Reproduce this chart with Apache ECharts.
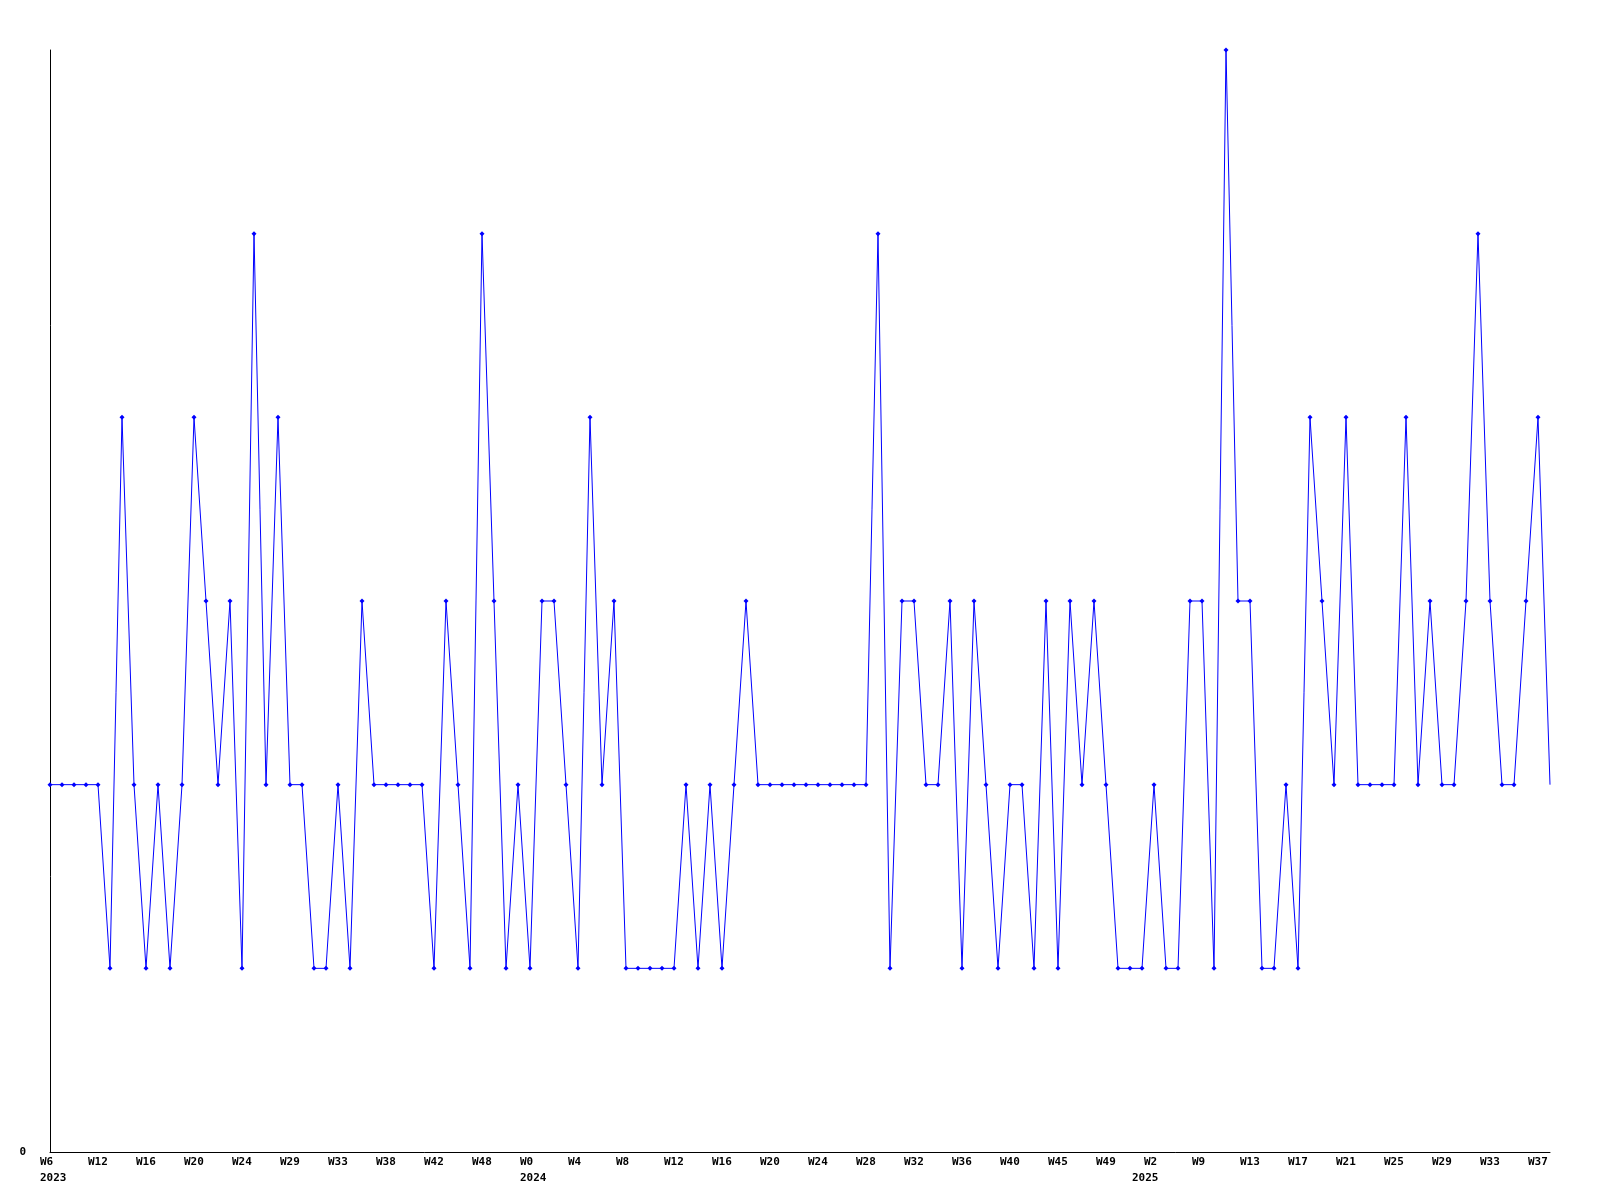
<!DOCTYPE html>
<html>
<head>
<meta charset="utf-8">
<script src="https://cdn.jsdelivr.net/npm/echarts@6/dist/echarts.min.js"></script>
<style>html,body{margin:0;padding:0;background:#fff}#c{width:1600px;height:1200px}</style>
</head>
<body>
<div id="c"></div>
<script>
// weekly values, one per point
const values = [
  2,2,2,2,2,1,4,2,1,2,1,2,4,3,2,3,1,5,
  2,4,2,2,1,1,2,1,3,2,2,2,2,2,1,3,2,1,
  5,3,1,2,1,3,3,2,1,4,2,3,1,1,1,1,1,
  2,1,2,1,2,3,2,2,2,2,2,2,2,2,2,2,5,1,
  3,3,2,2,3,1,3,2,1,2,2,1,3,1,3,2,3,
  2,1,1,1,2,1,1,3,3,1,6,3,3,1,1,2,1,4,
  3,2,4,2,2,2,2,4,2,3,2,2,3,5,3,2,2,3,4,2
];
// week tick labels (one every 4 points)
const weekTicks = ['W6','W12','W16','W20','W24','W29','W33','W38','W42','W48','W0',
  'W4','W8','W12','W16','W20','W24','W28','W32','W36','W40','W45','W49','W2',
  'W9','W13','W17','W21','W25','W29','W33','W37'];
// year tick labels and the point index they sit at
const yearTickIndex = [0, 40, 91];
const yearTickText = ['2023', '2024', '2025'];
const yTicks = ['0'];

const categories = values.map((v, i) => String(i));
const font = { fontFamily: 'DejaVu Sans Mono', fontWeight: 'bold', fontSize: 11, color: '#000' };

const chart = echarts.init(document.getElementById('c'));
chart.setOption({
  animation: false,
  backgroundColor: '#fff',
  grid: [
    { left: 50, right: 50, top: 50, bottom: 48 },
    { left: 40, right: 60, top: 50, bottom: 48 }
  ],
  xAxis: [
    { type: 'category', gridIndex: 0, position: 'bottom', data: categories, boundaryGap: false,
      axisLine: { show: true, lineStyle: { color: '#000', width: 1 } },
      axisTick: { show: false }, axisLabel: { show: false }, splitLine: { show: false } },
    { type: 'category', gridIndex: 1, position: 'bottom', offset: 0, data: categories, boundaryGap: false,
      axisLine: { show: false }, axisTick: { show: false }, splitLine: { show: false },
      axisLabel: Object.assign({ align: 'left', margin: 5,
        interval: (i) => i % 4 === 0,
        formatter: (v, i) => weekTicks[Math.round(i / 4)] || '' }, font) },
    { type: 'category', gridIndex: 1, position: 'bottom', offset: 0, data: categories, boundaryGap: false,
      axisLine: { show: false }, axisTick: { show: false }, splitLine: { show: false },
      axisLabel: Object.assign({ align: 'left', margin: 21,
        interval: (i) => yearTickIndex.indexOf(i) >= 0,
        formatter: (v, i) => { const k = yearTickIndex.indexOf(i); return k >= 0 ? yearTickText[k] : ''; } }, font) }
  ],
  yAxis: [
    { type: 'value', gridIndex: 0, min: 0, max: 6, interval: 6,
      axisLine: { show: true, lineStyle: { color: '#000', width: 1 } },
      axisTick: { show: false }, splitLine: { show: false },
      axisLabel: Object.assign({ margin: 24, formatter: (v) => v === 0 ? yTicks[0] : '' }, font) },
    { type: 'value', gridIndex: 1, min: 0, max: 6, show: false }
  ],
  series: [{
    type: 'line', xAxisIndex: 0, yAxisIndex: 0,
    data: values.map((v, i) => i === values.length - 1 ? { value: v, symbol: 'none' } : v),
    symbol: 'diamond', symbolSize: 5, showSymbol: true, showAllSymbol: true,
    lineStyle: { color: '#0000ff', width: 1 },
    itemStyle: { color: '#0000ff' },
    silent: true
  }]
});
</script>
</body>
</html>
